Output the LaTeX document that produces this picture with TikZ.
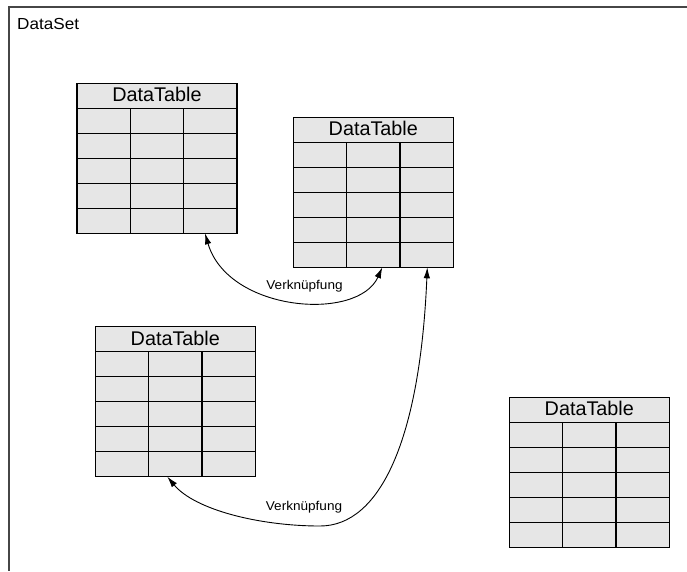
\documentclass[tikz,border=0pt]{standalone}
\usepackage{fontspec}
\usepackage{graphicx}
\setmainfont{Liberation Sans}
\usetikzlibrary{calc,arrows.meta}

\definecolor{cellfill}{RGB}{230,230,230}
\definecolor{framegray}{RGB}{70,70,70}

\tikzset{
  tablebox/.style={draw=black, fill=cellfill, line width=1.4pt,
    minimum width=160pt, minimum height=150pt, inner sep=0pt, outer sep=0pt},
  gridline/.style={draw=black, line width=1.4pt},
  tabletitle/.style={anchor=base, inner sep=0pt,
    font=\fontsize{19.8}{22}\selectfont},
  linklabel/.style={anchor=base, inner sep=0pt,
    font=\fontsize{12.8}{15}\selectfont},
  link/.style={draw=black, line width=0.9pt,
    {Latex[length=11pt,width=6.5pt]}-{Latex[length=11pt,width=6.5pt]}},
}

% one DataTable: title row plus a 3 x 5 grid of cells
\newcommand\dtable[3]{%
  \node[tablebox, anchor=north west] (#1) at (#2,#3) {};
  \node[tabletitle] (#1-title) at ($(#1.north)+(0,18.5)$) {DataTable};
  \foreach \r in {25,50,75,100,125}
    \draw[gridline] ($(#1.north west)+(0,\r)$) -- ($(#1.north east)+(0,\r)$);
  \foreach \c in {53.3,106.7}
    \draw[gridline] ($(#1.north west)+(\c,25)$) -- ($(#1.south west)+(\c,0)$);
}

\begin{document}
\begin{tikzpicture}[x=1pt,y=-1pt]
  \useasboundingbox (0,0) rectangle (687,571);

  % DataSet frame
  \draw[framegray, line width=1.2pt] (687,7) -- (9,7) -- (9,571);
  \node[anchor=base west, inner sep=0pt, font=\fontsize{16}{19}\selectfont]
    (dataset) at (17,29) {\scalebox{1.07}[1]{DataSet}};

  % tables
  \dtable{t1}{77}{83.3}
  \dtable{t2}{293.3}{117.3}
  \dtable{t3}{95.3}{326.7}
  \dtable{t4}{509.3}{397.3}

  % relation end points on the table borders
  \coordinate (a1) at ($(t1.south west)+(128,0)$);
  \coordinate (b1) at ($(t2.south west)+(89,0)$);
  \coordinate (a2) at ($(t3.south west)+(72,0)$);
  \coordinate (b2) at ($(t2.south west)+(134,0)$);

  % relations
  \draw[link] (a1) .. controls (228,312) and (358,322) .. (b1);
  \node[linklabel] (l1) at (304.5,289) {\scalebox{1.06}[1]{Verknüpfung}};

  \draw[link] (a2) .. controls (195,510) and (260,526) .. (320,526)
                   .. controls (380,526) and (420,440) .. (b2);
  \node[linklabel] (l2) at (304,510) {\scalebox{1.06}[1]{Verknüpfung}};
\end{tikzpicture}
\end{document}
